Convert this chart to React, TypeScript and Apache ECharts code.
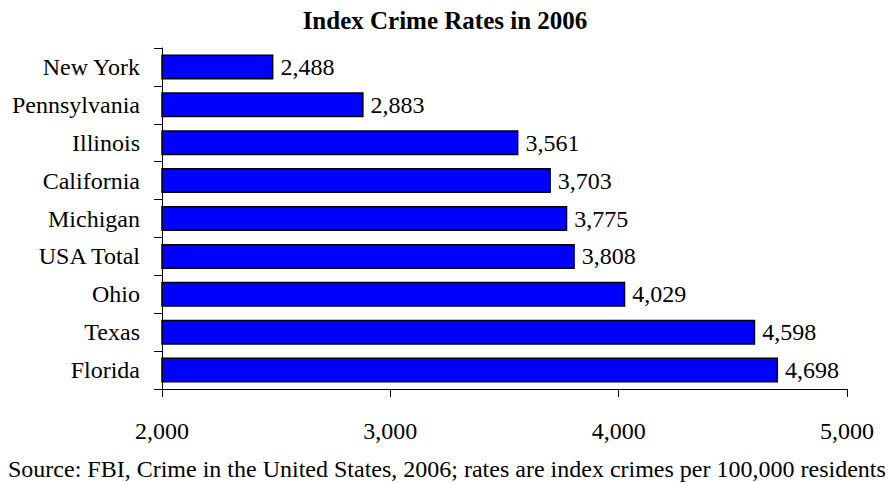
import React, { useEffect, useRef } from "react";
import * as echarts from "echarts";

const categories = ["New York", "Pennsylvania", "Illinois", "California", "Michigan", "USA Total", "Ohio", "Texas", "Florida"];
const values = [2488, 2883, 3561, 3703, 3775, 3808, 4029, 4598, 4698];
const titleText = "Index Crime Rates in 2006";
const sourceText = "Source: FBI, Crime in the United States, 2006; rates are index crimes per 100,000 residents";
const xMin = 2000;
const xMax = 5000;
const xInterval = 1000;

const FONT = "'Liberation Serif', 'Times New Roman', serif";

export default function App() {
  const ref = useRef<HTMLDivElement>(null);
  useEffect(() => {
    if (!ref.current) return;
    const chart = echarts.init(ref.current, null, { renderer: "svg" });
    const fmt = (v: number) => v.toLocaleString("en-US");
    chart.setOption({
      animation: false,
      backgroundColor: "#ffffff",
      title: {
        text: titleText,
        left: 440,
        textAlign: "center",
        top: 3,
        textStyle: { fontFamily: FONT, fontWeight: "bold", fontSize: 25, color: "#000" },
      },
      grid: { left: 162, right: 41, top: 48, bottom: 94, containLabel: false },
      xAxis: {
        type: "value",
        min: xMin,
        max: xMax,
        interval: xInterval,
        axisLine: { show: true, lineStyle: { color: "#000", width: 1 } },
        axisTick: { show: true, length: 8, lineStyle: { color: "#000" } },
        splitLine: { show: false },
        axisLabel: { formatter: fmt, fontFamily: FONT, fontSize: 24, color: "#000", margin: 30 },
      },
      yAxis: {
        type: "category",
        data: categories,
        inverse: true,
        axisLine: { show: true, lineStyle: { color: "#000", width: 1 } },
        axisTick: { show: true, length: 8, lineStyle: { color: "#000" } },
        axisLabel: { fontFamily: FONT, fontSize: 24, color: "#000", margin: 22 },
      },
      series: [
        {
          type: "bar",
          data: values,
          barCategoryGap: "34%",
          itemStyle: { color: "#0000FF", borderColor: "#000", borderWidth: 1.5 },
          label: {
            show: true,
            position: "right",
            distance: 7,
            formatter: (p: any) => fmt(p.value),
            fontFamily: FONT,
            fontSize: 24,
            color: "#000",
          },
        },
      ],
      graphic: [
        {
          type: "text",
          x: 8,
          y: 469,
          style: { text: sourceText, font: `24px ${FONT}`, fill: "#000", verticalAlign: "middle", align: "left" },
        },
      ],
    });
    return () => chart.dispose();
  }, []);
  return <div ref={ref} style={{ position: "absolute", left: 0, top: 0, width: 888, height: 483 }} />;
}
